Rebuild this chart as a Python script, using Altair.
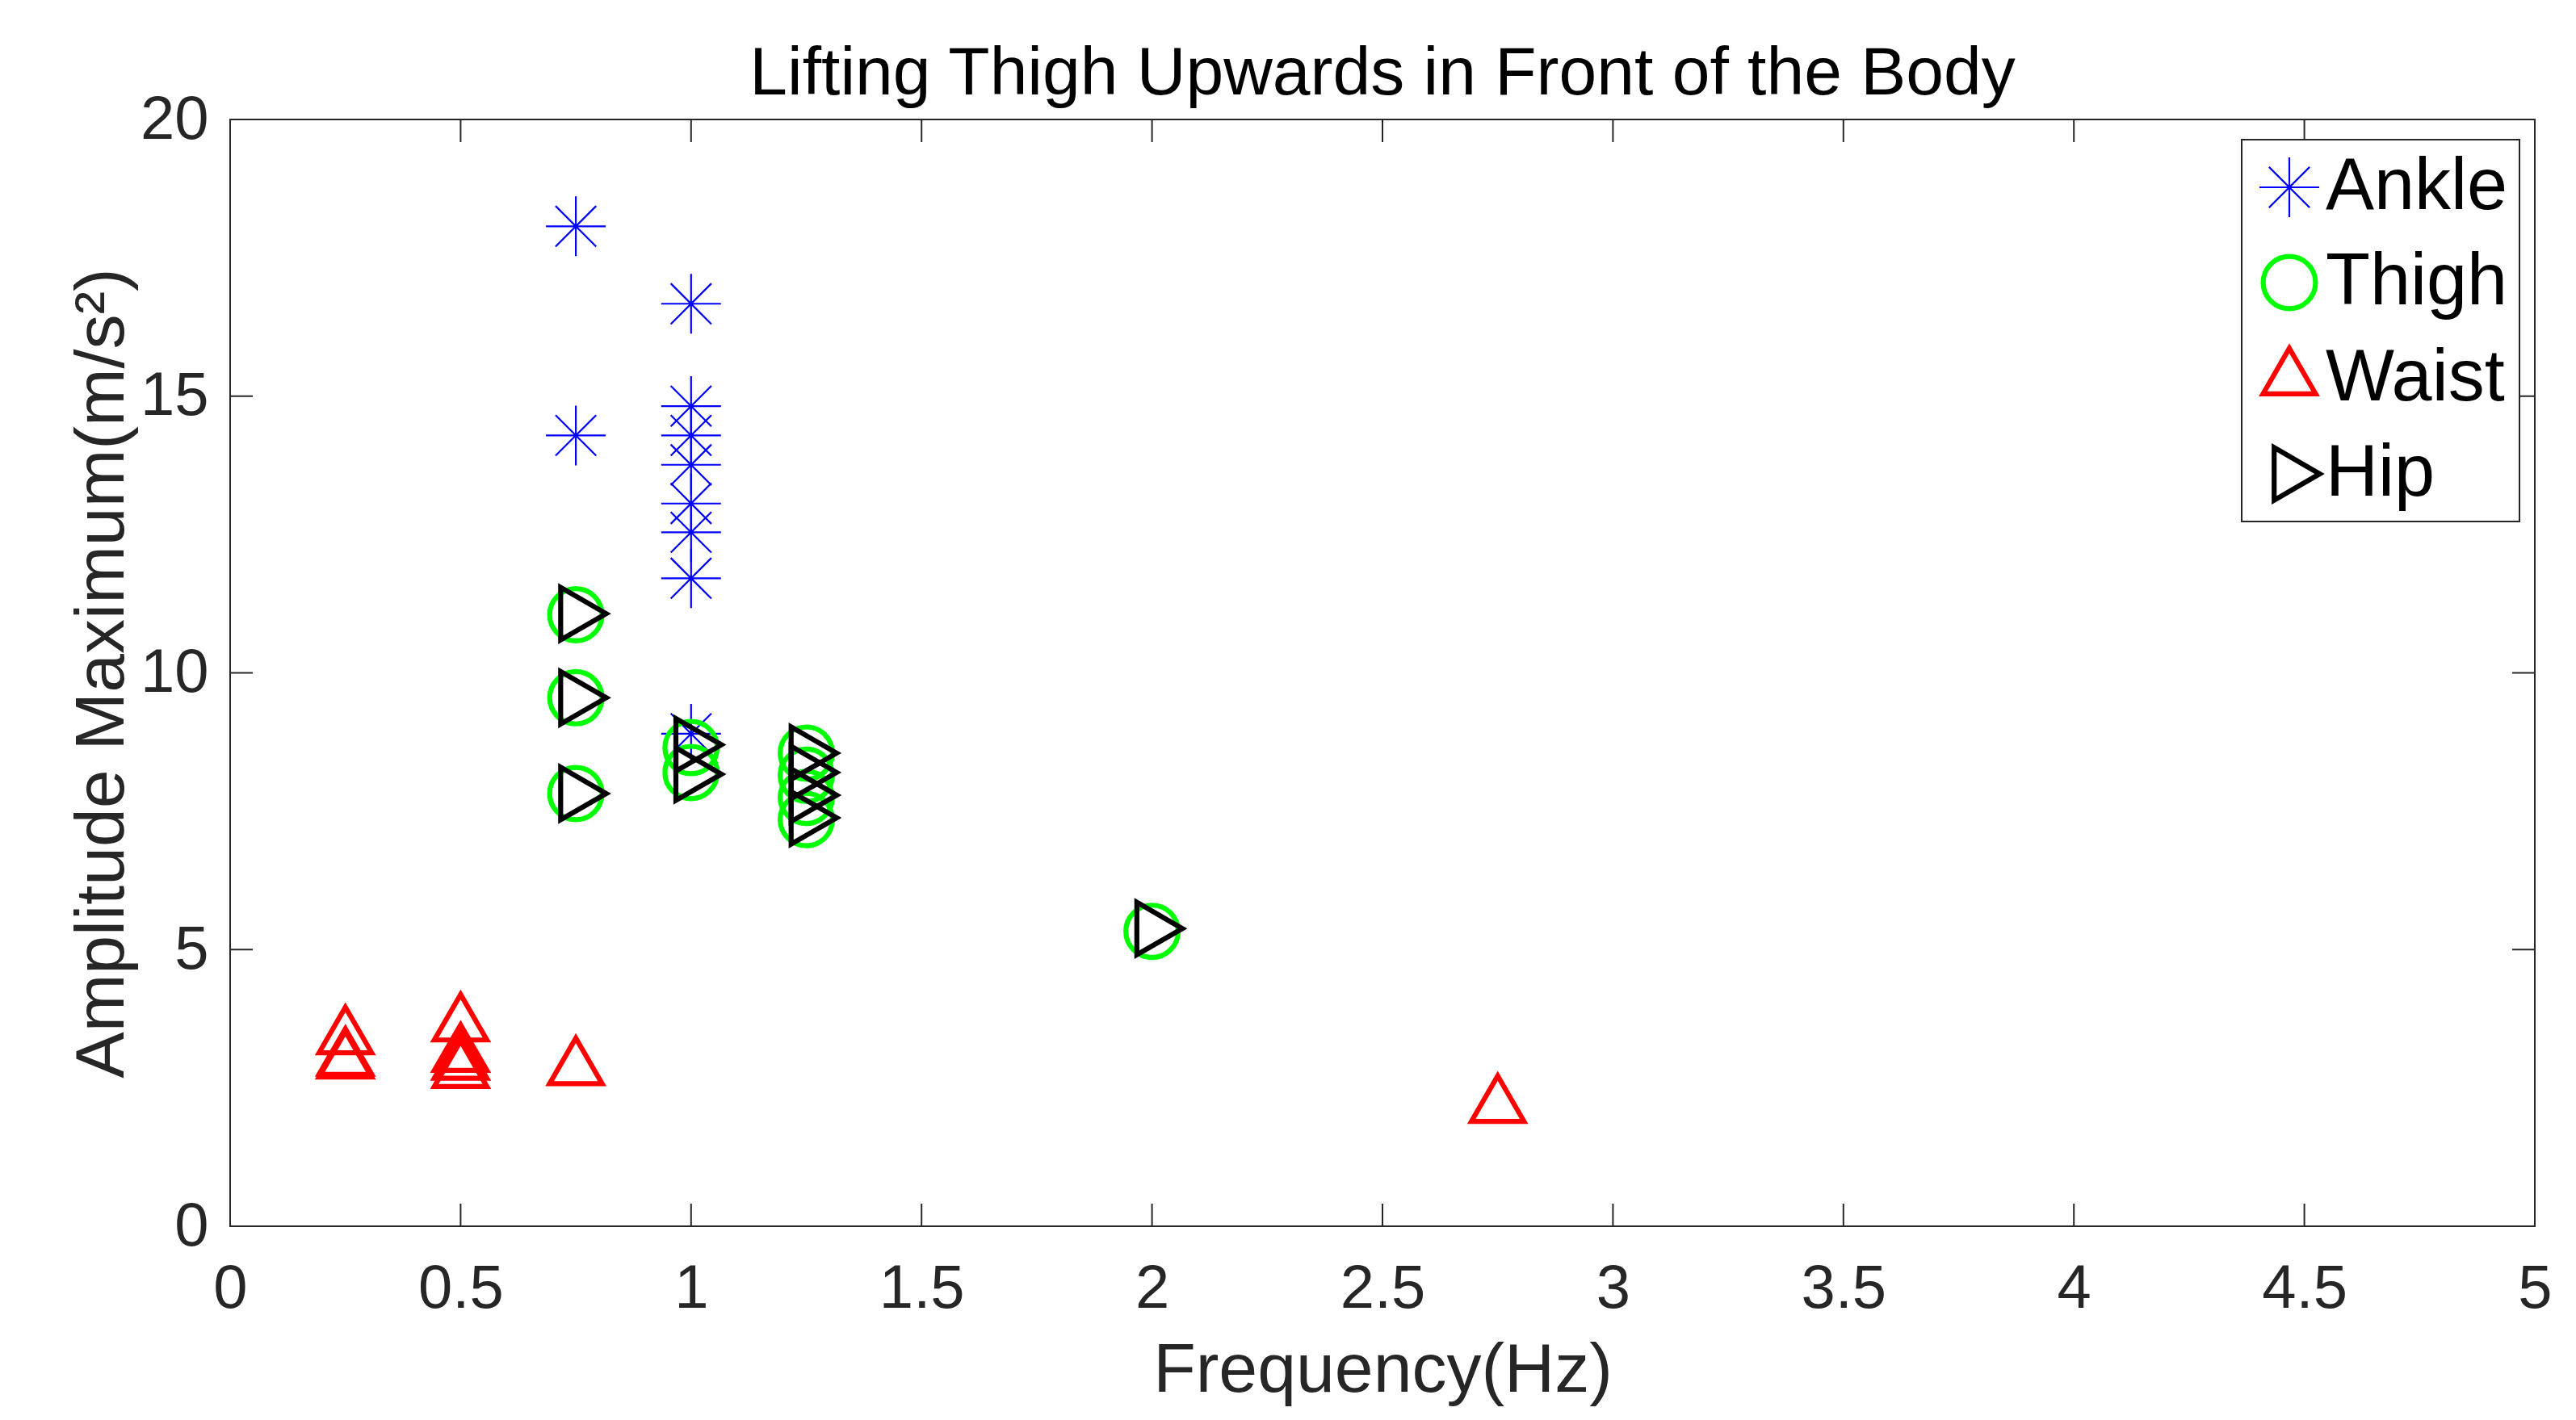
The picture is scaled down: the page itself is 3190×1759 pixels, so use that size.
import altair as alt
import pandas as pd

# ---- data ----
ankle_x = [0.75, 0.75, 1, 1, 1, 1, 1, 1, 1, 1]
ankle_y = [18.07, 14.29, 16.67, 14.82, 14.29, 13.76, 13.06, 12.54, 11.71, 8.9]

thigh_x = [0.75, 0.75, 0.75, 1, 1, 1.25, 1.25, 1.25, 1.25, 2]
thigh_y = [11.05, 9.55, 7.82, 8.65, 8.2, 8.55, 8.15, 7.75, 7.35, 5.33]

waist_x = [0.25, 0.25, 0.25, 0.5, 0.5, 0.5, 0.5, 0.75, 2.75]
waist_y = [3.41, 3.02, 2.97, 3.64, 3.09, 2.95, 2.8, 2.85, 2.17]

hip_x = [0.75, 0.75, 0.75, 1, 1, 1.25, 1.25, 1.25, 1.25, 2]
hip_y = [11.07, 9.55, 7.82, 8.70, 8.17, 8.55, 8.2, 7.79, 7.38, 5.38]

series = ["Ankle", "Thigh", "Waist", "Hip"]
colors = ["#0000FF", "#00FF00", "#FF0000", "#000000"]
x_ticks = [0, 0.5, 1, 1.5, 2, 2.5, 3, 3.5, 4, 4.5, 5]
y_ticks = [0, 5, 10, 15, 20]

title_text = "Lifting Thigh Upwards in Front of the Body"
x_title = "Frequency(Hz)"
y_title = "Amplitude Maximum(m/s²)"

rows = []
for name, xs, ys in zip(series, [ankle_x, thigh_x, waist_x, hip_x],
                        [ankle_y, thigh_y, waist_y, hip_y]):
    for a, b in zip(xs, ys):
        rows.append({"f": a, "amp": b, "series": name})
df = pd.DataFrame(rows)
df["idx"] = range(len(df))


# ---- marker outlines (unit = sqrt(size)/2 px); thick outlines drawn as
#      nested thin outlines so that the asterisk can stay thin ----
def fmt(v):
    return f"{v:.4f}".rstrip("0").rstrip(".")


def circle_path(radii):
    parts = []
    for r in radii:
        R = fmt(r)
        parts.append(f"M{R},0A{R},{R},0,1,1,-{R},0A{R},{R},0,1,1,{R},0Z")
    return "".join(parts)


def tri_path(a, h, scales, direction):
    parts = []
    for s in scales:
        pts = [(0, -2 * h / 3 * s), (a * s, h / 3 * s), (-a * s, h / 3 * s)]
        if direction == "right":
            pts = [(-y, x) for (x, y) in pts]
        p = pts
        parts.append(f"M{fmt(p[0][0])},{fmt(p[0][1])}L{fmt(p[1][0])},{fmt(p[1][1])}"
                     f"L{fmt(p[2][0])},{fmt(p[2][1])}Z")
    return "".join(parts)


SIZE = 4096          # unit = 32 px
U = 32.0
asterisk = ("M-1.156,0L1.156,0M0,-1.156L0,1.156"
            "M-0.786,-0.786L0.786,0.786M-0.786,0.786L0.786,-0.786")
circle = circle_path([34.4 / U, 32.4 / U, 30.4 / U])
a_px, h_px = 36.0, 62.35
scales = [1.0, 0.904, 0.808]
tri_up = tri_path(a_px / U, h_px / U, scales, "up")
tri_right = tri_path(a_px / U, h_px / U, scales, "right")

FONT = "Liberation Sans"
W, H = 2854, 1371
TICK = 28

xscale = alt.Scale(domain=[0, 5], nice=False, zero=False)
yscale = alt.Scale(domain=[0, 20], nice=False, zero=False)

x_axis = alt.Axis(values=x_ticks, format="~g", grid=False, domain=False,
                  ticks=False, labelFlush=False, labelOverlap=False,
                  labelFontSize=76, labelPadding=40, labelFont=FONT,
                  labelColor="#262626", titleFont=FONT, titleFontSize=86,
                  titleFontWeight="normal", titleColor="#262626",
                  titleBaseline="alphabetic", titleY=204, titleX=W / 2)
y_axis = alt.Axis(values=y_ticks, format="~g", grid=False, domain=False,
                  ticks=False, labelFlush=False, labelOverlap=False,
                  labelFontSize=76, labelPadding=27, labelFont=FONT,
                  labelColor="#262626", titleFont=FONT, titleFontSize=86,
                  titleFontWeight="normal", titleColor="#262626",
                  titleAngle=270, titleBaseline="alphabetic",
                  titleX=-133, titleY=H / 2, titleAlign="center")

points = alt.Chart(df).mark_point(filled=False, opacity=1, size=SIZE,
                                  strokeWidth=2.2).encode(
    x=alt.X("f:Q", scale=xscale, title=x_title, axis=x_axis),
    y=alt.Y("amp:Q", scale=yscale, title=y_title, axis=y_axis),
    color=alt.Color("series:N", scale=alt.Scale(domain=series, range=colors),
                    title=None),
    shape=alt.Shape("series:N", scale=alt.Scale(domain=series,
                    range=[asterisk, circle, tri_up, tri_right]), title=None),
    order=alt.Order("idx:Q"),
)

xt = pd.DataFrame({"t": x_ticks})
yt = pd.DataFrame({"t": y_ticks})

x_bottom = alt.Chart(xt).mark_rule(color="#262626", strokeWidth=2).encode(
    x=alt.X("t:Q", scale=xscale, title=x_title, axis=x_axis),
    y=alt.value(H), y2=alt.value(H - TICK))
x_top = alt.Chart(xt).mark_rule(color="#262626", strokeWidth=2).encode(
    x=alt.X("t:Q", scale=xscale, title=x_title, axis=x_axis),
    y=alt.value(0), y2=alt.value(TICK))
y_left = alt.Chart(yt).mark_rule(color="#262626", strokeWidth=2).encode(
    y=alt.Y("t:Q", scale=yscale, title=y_title, axis=y_axis),
    x=alt.value(0), x2=alt.value(TICK))
y_right = alt.Chart(yt).mark_rule(color="#262626", strokeWidth=2).encode(
    y=alt.Y("t:Q", scale=yscale, title=y_title, axis=y_axis),
    x=alt.value(W), x2=alt.value(W - TICK))

chart = alt.layer(x_bottom, x_top, y_left, y_right, points).properties(
    width=W, height=H,
    background="white",
    title=alt.TitleParams(title_text, font=FONT, fontSize=84, fontWeight="normal",
                          color="#000000", anchor="middle", frame="group",
                          offset=18, dy=43),
    autosize=alt.AutoSizeParams(type="none"),
    padding={"left": 277, "top": 140, "right": 43, "bottom": 232},
).configure_view(
    stroke="#262626", strokeWidth=2, fill="white"
).configure_legend(
    orient="none", legendX=2491, legendY=25, direction="vertical",
    strokeColor="#262626", strokeWidth=2, fillColor="white",
    padding=14, rowPadding=28, labelFont=FONT, labelFontSize=90,
    labelColor="#000000", labelOffset=0, labelLimit=0,
    symbolSize=SIZE, symbolStrokeWidth=2.2
)

chart.save("out.html", embed_options={"renderer": "svg", "actions": False})
